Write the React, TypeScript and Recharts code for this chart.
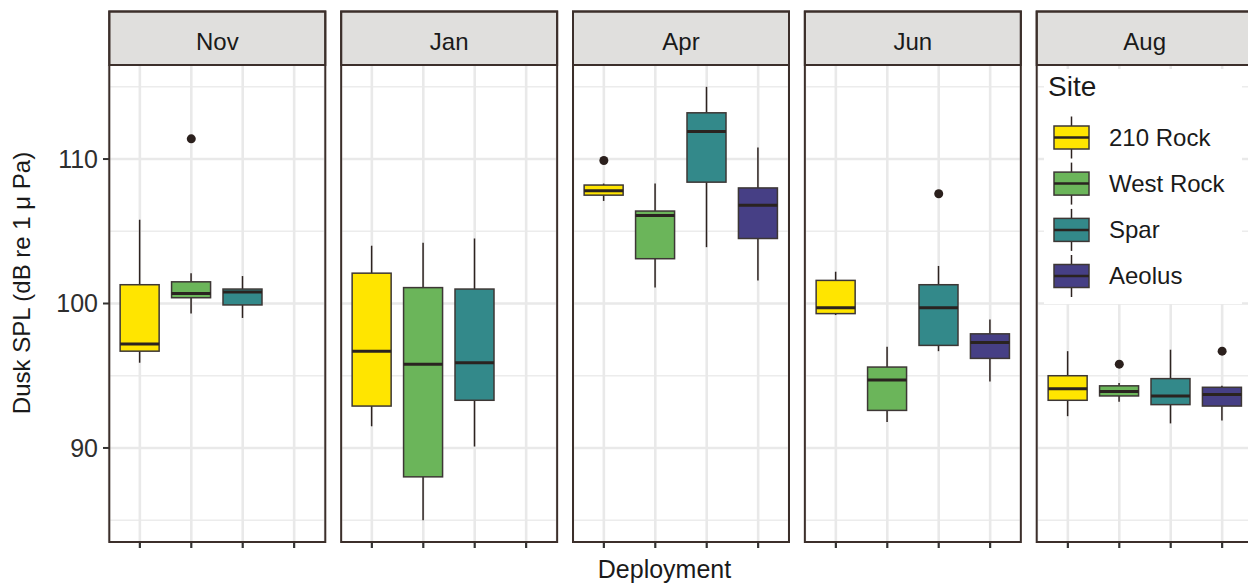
import React from 'react'
import { ComposedChart, Bar, Scatter, XAxis, YAxis, CartesianGrid } from 'recharts'

const sites = ['210 Rock', 'West Rock', 'Spar', 'Aeolus']
const siteFills = ['#FFE500', '#6BB55A', '#33898A', '#463F85']
const deployments = ['Nov', 'Jan', 'Apr', 'Jun', 'Aug']

// [lower whisker, Q1, median, Q3, upper whisker] per site, null where a site has no data
const novStats = [[95.9, 96.7, 97.2, 101.3, 105.8], [99.3, 100.4, 100.7, 101.5, 102.1], [99.0, 99.9, 100.8, 101.0, 101.9], null]
const janStats = [[91.5, 92.9, 96.7, 102.1, 104.0], [85.0, 88.0, 95.8, 101.1, 104.2], [90.1, 93.3, 95.9, 101.0, 104.5], null]
const aprStats = [[107.1, 107.5, 107.8, 108.2, 108.3], [101.1, 103.1, 106.1, 106.4, 108.3], [103.9, 108.4, 111.9, 113.2, 115.0], [101.6, 104.5, 106.8, 108.0, 110.8]]
const junStats = [[99.2, 99.3, 99.7, 101.6, 102.2], [91.8, 92.6, 94.7, 95.6, 97.0], [96.7, 97.1, 99.7, 101.3, 102.6], [94.6, 96.2, 97.3, 97.9, 98.9]]
const augStats = [[92.2, 93.3, 94.1, 95.0, 96.7], [93.2, 93.6, 93.9, 94.3, 94.5], [91.7, 93.0, 93.6, 94.8, 96.8], [91.9, 92.9, 93.7, 94.2, 94.3]]

const novOutliers = [null, 111.4, null, null]
const janOutliers = [null, null, null, null]
const aprOutliers = [109.9, null, null, null]
const junOutliers = [null, null, 107.6, null]
const augOutliers = [null, 95.8, null, 96.7]

const majorTicks = [90, 100, 110]
const minorTicks = [85, 95, 105, 115]

const panelStats = [novStats, janStats, aprStats, junStats, augStats]
const panelOutliers = [novOutliers, janOutliers, aprOutliers, junOutliers, augOutliers]

const FONT = '"Liberation Sans", Arial, Helvetica, sans-serif'
const INK = '#3c2f2b'
const TEXT = '#1a1a1a'

const plotTop = 65
const plotHeight = 477
const axisStrip = 8
const panelWidth = 216
const panelPitch = 231.85
const firstLeft = 109.3
const yAxisWidth = 100
const stripTop = 11.5
const pad = panelWidth / 42

function buildRows(stats: (number[] | null)[], outliers: (number | null)[]) {
  return sites.map((site, i) => ({
    site,
    idx: i,
    stats: stats[i],
    whiskers: stats[i] ? [stats[i]![0], stats[i]![4]] : null,
    outlier: outliers[i],
  }))
}

function makeBoxShape(rows: any[]) {
  return (props: any) => {
    const row = rows[props.index]
    const s = row && row.stats
    if (!s || !Number.isFinite(props.y) || !Number.isFinite(props.height)) return <g />
    const top = Math.min(props.y, props.y + props.height)
    const bottom = Math.max(props.y, props.y + props.height)
    const k = (bottom - top) / (s[4] - s[0])
    const py = (v: number) => top + (s[4] - v) * k
    const cx = props.x + props.width / 2
    return (
      <g>
        <line x1={cx} x2={cx} y1={py(s[4])} y2={py(s[3])} stroke="#2d2320" strokeWidth={1.5} />
        <line x1={cx} x2={cx} y1={py(s[1])} y2={py(s[0])} stroke="#2d2320" strokeWidth={1.5} />
        <rect
          x={props.x}
          y={py(s[3])}
          width={props.width}
          height={py(s[1]) - py(s[3])}
          fill={siteFills[row.idx]}
          stroke="#3d3735"
          strokeWidth={1.5}
        />
        <line x1={props.x} x2={props.x + props.width} y1={py(s[2])} y2={py(s[2])} stroke="#2a2320" strokeWidth={3} />
      </g>
    )
  }
}

function OutlierDot(props: any) {
  if (props.payload?.outlier == null || !Number.isFinite(props.cy)) return <g />
  return <circle cx={props.cx} cy={props.cy} r={4.5} fill="#2b201d" />
}

function Panel({ index }: { index: number }) {
  const rows = buildRows(panelStats[index], panelOutliers[index])
  const first = index === 0
  const left = firstLeft + index * panelPitch - (first ? yAxisWidth : 0)
  return (
    <div style={{ position: 'absolute', left, top: plotTop }}>
      <ComposedChart
        width={panelWidth + (first ? yAxisWidth : 0)}
        height={plotHeight + axisStrip}
        data={rows}
        margin={{ top: 0, right: 0, bottom: 0, left: 0 }}
        barSize={39}
      >
        <CartesianGrid horizontalValues={minorTicks} vertical={false} stroke="#ececec" strokeWidth={1.6} />
        <CartesianGrid horizontalValues={majorTicks} stroke="#e9e9e9" strokeWidth={2.6} />
        <XAxis
          dataKey="site"
          type="category"
          interval={0}
          height={axisStrip}
          axisLine={false}
          tickSize={6}
          tickLine={{ stroke: '#333', strokeWidth: 2.2 }}
          tickFormatter={() => ''}
          padding={{ left: pad, right: pad }}
        />
        <YAxis
          type="number"
          domain={[83.49, 116.51]}
          allowDataOverflow
          ticks={majorTicks}
          hide={!first}
          width={yAxisWidth}
          axisLine={false}
          tickSize={6}
          tickMargin={5}
          tickLine={{ stroke: '#333', strokeWidth: 2 }}
          tick={{ fontSize: 25, fill: '#2e2e2e', fontFamily: FONT }}
        />
        <Bar dataKey="whiskers" shape={makeBoxShape(rows)} isAnimationActive={false} />
        <Scatter dataKey="outlier" shape={OutlierDot} isAnimationActive={false} />
      </ComposedChart>
    </div>
  )
}

export default function App() {
  const legendCenters = [137.5, 183.6, 229.9, 276]
  return (
    <div style={{ position: 'absolute', left: 0, top: 0, width: 1248, height: 583, overflow: 'hidden', background: '#fff', fontFamily: FONT }}>
      {deployments.map((_, i) => (
        <Panel key={i} index={i} />
      ))}
      <svg width={1248} height={583} style={{ position: 'absolute', left: 0, top: 0, pointerEvents: 'none' }}>
        {/* legend, inset in the last panel */}
        <rect x={1044} y={69} width={198} height={235} fill="#fff" />
        <text x={1048} y={96} fontSize={28} fill={TEXT} fontFamily={FONT}>Site</text>
        {sites.map((site, i) => {
          const cy = legendCenters[i]
          return (
            <g key={site}>
              <line x1={1071.5} x2={1071.5} y1={cy - 21} y2={cy + 21} stroke="#2d2320" strokeWidth={1.5} />
              <rect x={1054} y={cy - 11.5} width={35} height={23} fill={siteFills[i]} stroke="#3d3735" strokeWidth={1.5} />
              <line x1={1054} x2={1089} y1={cy} y2={cy} stroke="#2a2320" strokeWidth={2.5} />
              <text x={1109} y={cy} dy="0.35em" fontSize={24} fill={TEXT} fontFamily={FONT}>{site}</text>
            </g>
          )
        })}
        {deployments.map((name, i) => {
          const x = firstLeft + i * panelPitch
          return (
            <g key={name}>
              <rect x={x} y={stripTop} width={panelWidth} height={plotTop - stripTop} fill="#e0dfdd" stroke={INK} strokeWidth={2} />
              <text x={x + panelWidth / 2} y={42} dy="0.35em" textAnchor="middle" fontSize={24} fill={TEXT} fontFamily={FONT}>{name}</text>
              <rect x={x} y={stripTop} width={panelWidth} height={plotTop + plotHeight - stripTop} fill="none" stroke={INK} strokeWidth={2} />
            </g>
          )
        })}
        <text x={664.5} y={578} textAnchor="middle" fontSize={25} fill={TEXT} fontFamily={FONT}>Deployment</text>
        <text
          x={22}
          y={283}
          dy="0.35em"
          textAnchor="middle"
          fontSize={24}
          fill={TEXT}
          fontFamily={FONT}
          transform="rotate(-90 22 283)"
        >
          Dusk SPL (dB re 1 μ Pa)
        </text>
      </svg>
    </div>
  )
}
